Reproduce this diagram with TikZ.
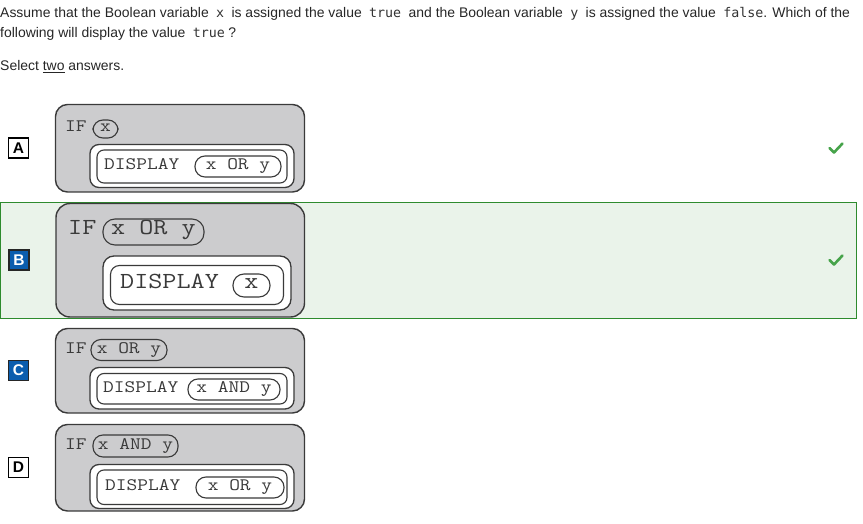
\documentclass[tikz,border=0pt]{standalone}
\usepackage{fontspec}
\setmainfont{Liberation Sans}
\newfontfamily\icfont{DejaVu Sans Mono}
\newfontfamily\codefont{Latin Modern Mono}[FakeStretch=1.19]
\definecolor{txt}{HTML}{262626}
\definecolor{icc}{HTML}{333333}
\definecolor{boxgray}{HTML}{CCCCCE}
\definecolor{boxline}{HTML}{3A3A3A}
\definecolor{bandfill}{HTML}{EAF3EA}
\definecolor{bandline}{HTML}{2E8B2E}
\definecolor{labblue}{HTML}{0B5DAE}
\definecolor{checkgreen}{HTML}{46A34A}
\newcommand\ic[1]{\hspace{3.5pt}{\color{icc}\icfont\fontsize{13.3}{17}\selectfont #1}\hspace{3.5pt}}
\tikzset{
  outerbox/.style={draw=boxline, fill=boxgray, line width=1.4pt, rounded corners=12pt},
  whitebox/.style={draw=boxline, fill=white, line width=1.3pt, rounded corners=9pt},
  innerbox/.style={draw=boxline, line width=1.1pt, rounded corners=7pt},
  pill/.style={draw=boxline, line width=1.1pt, rounded corners=10pt, inner sep=0pt, text=boxline},
  codetext/.style={inner sep=0pt, text=boxline, text height=.6em, text depth=0pt},
  small/.style={font=\codefont\fontsize{17.5}{18}\selectfont},
  big/.style={font=\codefont\fontsize{23}{24}\selectfont},
  lab/.style={draw=black, line width=1.3pt, minimum width=20pt, minimum height=20pt, inner sep=0pt, font=\bfseries\fontsize{15.5}{15}\selectfont},
  labsel/.style={lab, fill=labblue, draw=black!85, text=white},
  headtext/.style={inner sep=0pt, anchor=base west, text=txt, font=\fontsize{13.95}{17}\selectfont},
  check/.style={draw=checkgreen, line width=2.6pt, line cap=round, line join=round}
}
\begin{document}
\begin{tikzpicture}[x=1pt,y=-1pt]
\useasboundingbox (0,0) rectangle (863,524);
% header
\node[headtext] (h1) at (0,18) {Assume that the Boolean variable \ic{x} is assigned the value \ic{true} and the Boolean variable \ic{y} is assigned the value \ic{false}\hspace{-3.5pt}. Which of the};
\node[headtext] (h2) at (0,38) {following will display the value \ic{true}?};
\node[headtext] (h3) at (0,71) {Select \underline{two} answers.};
% selected band
\draw[fill=bandfill, draw=bandline, line width=1pt] (0.5,202.5) rectangle (856,318);
% labels
\node[lab] (la) at (18.5,148) {A};
\node[labsel] (lb) at (19,260) {B};
\node[labsel] (lc) at (18.5,370.5) {C};
\node[lab] (ld) at (18.5,467.5) {D};
% checks
\draw[check] (829.5,148) -- (834,152.5) -- (842.5,143.5);
\draw[check] (829.5,260) -- (834,264.5) -- (842.5,255.5);
% ---- A ----
\draw[outerbox] (55.5,104.5) rectangle (304.5,192);
\node[codetext, small, anchor=west] (aif) at (65,129) {IF};
\node[pill, small, codetext, minimum width=25pt, minimum height=18pt] (aifp) at (105.5,129) {x};
\draw[whitebox] (90,144.5) rectangle (294,187.5);
\draw[innerbox] (97,150) rectangle (287,183);
\node[codetext, small, anchor=west] (adisp) at (104,166.5) {DISPLAY};
\node[pill, small, codetext, minimum width=86pt, minimum height=21pt] (adp) at (238,166.5) {x OR y};
% ---- B ----
\draw[outerbox, rounded corners=14pt] (56,203.5) rectangle (304.5,317);
\node[codetext, big, anchor=west] (bif) at (68,232) {IF};
\node[pill, big, codetext, minimum width=101pt, minimum height=26pt, rounded corners=12pt] (bifp) at (153.5,232) {x OR y};
\draw[whitebox, rounded corners=11pt] (103,256) rectangle (291,310);
\draw[innerbox, rounded corners=9pt] (110.5,265.5) rectangle (283.5,304.5);
\node[codetext, big, anchor=west] (bdisp) at (120,285.5) {DISPLAY};
\node[pill, big, codetext, minimum width=37pt, minimum height=23pt, rounded corners=11pt] (bdp) at (251.5,285.5) {x};
% ---- C ----
\draw[outerbox] (55.5,328.5) rectangle (304.5,413);
\node[codetext, small, anchor=west] (cif) at (65,350) {IF};
\node[pill, small, codetext, minimum width=76pt, minimum height=21pt] (cifp) at (129,350) {x OR y};
\draw[whitebox] (90,367.5) rectangle (294,409);
\draw[innerbox] (97,373.5) rectangle (287,404);
\node[codetext, small, anchor=west] (cdisp) at (103,389.5) {DISPLAY};
\node[pill, small, codetext, minimum width=92pt, minimum height=21pt] (cdp) at (234,389.5) {x AND y};
% ---- D ----
\draw[outerbox] (55.5,424.5) rectangle (304.5,511);
\node[codetext, small, anchor=west] (dif) at (65,446) {IF};
\node[pill, small, codetext, minimum width=85pt, minimum height=22pt] (difp) at (135.5,446) {x AND y};
\draw[whitebox] (90,464.5) rectangle (294,508.5);
\draw[innerbox] (97,470) rectangle (287,504.5);
\node[codetext, small, anchor=west] (ddisp) at (105,487.5) {DISPLAY};
\node[pill, small, codetext, minimum width=88pt, minimum height=21pt] (ddp) at (240,487.5) {x OR y};
\end{tikzpicture}
\end{document}
